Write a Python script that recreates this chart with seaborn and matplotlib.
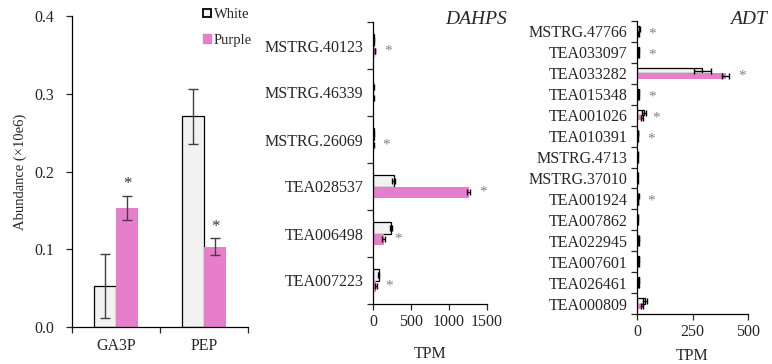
import matplotlib
matplotlib.use("Agg")
import matplotlib.pyplot as plt
import seaborn as sns
import pandas as pd
import numpy as np
from matplotlib.patches import Patch

sns.set_theme(style="white")
plt.rcParams['font.family'] = ['Liberation Serif', 'DejaVu Serif']

WHITE_C = "#f2f2f2"
PURPLE_C = "#e67fcb"
groups = ["White", "Purple"]

# ---------------- Panel 1 data ----------------
met_cats = ["GA3P", "PEP"]
met_white = [0.053, 0.271]
met_white_err = [0.041, 0.035]
met_purple = [0.153, 0.103]
met_purple_err = [0.016, 0.011]
met_sig = [True, True]

# ---------------- Panel 2 data (DAHPS) ----------------
dahps_genes = ["MSTRG.40123", "MSTRG.46339", "MSTRG.26069",
               "TEA028537", "TEA006498", "TEA007223"]
dahps_white = [8, 5, 8, 270, 240, 75]
dahps_white_err = [3, 2, 3, 22, 15, 10]
dahps_purple = [25, 5, 5, 1260, 140, 40]
dahps_purple_err = [5, 2, 2, 20, 20, 8]
dahps_sig = [True, False, True, True, True, True]

# ---------------- Panel 3 data (ADT) ----------------
adt_genes = ["MSTRG.47766", "TEA033097", "TEA033282", "TEA015348",
             "TEA001026", "TEA010391", "MSTRG.4713", "MSTRG.37010",
             "TEA001924", "TEA007862", "TEA022945", "TEA007601",
             "TEA026461", "TEA000809"]
adt_white = [10, 8, 295, 8, 32, 4, 3, 2, 6, 3, 8, 7, 8, 35]
adt_white_err = [2, 2, 38, 2, 8, 1, 1, 1, 2, 1, 2, 2, 2, 8]
adt_purple = [8, 6, 400, 6, 22, 3, 2, 2, 4, 2, 6, 6, 6, 22]
adt_purple_err = [2, 2, 15, 2, 6, 1, 1, 1, 1, 1, 2, 2, 2, 6]
adt_sig = [True, True, True, True, True, True, False, False, True,
           False, False, False, False, False]

W, H = 772, 364
fig = plt.figure(figsize=(W / 100, H / 100), dpi=100)


def axes_px(l, r, t, b):
    return fig.add_axes([l / W, 1 - b / H, (r - l) / W, (b - t) / H])


def long_df(cats, w, p):
    return pd.DataFrame({"cat": list(cats) * 2,
                         "value": list(w) + list(p),
                         "group": ["White"] * len(cats) + ["Purple"] * len(cats)})


FS = 11.5

# ---------- Panel 1 ----------
ax1 = axes_px(72, 248, 16, 327)
df1 = long_df(met_cats, met_white, met_purple)
sns.barplot(data=df1, x="cat", y="value", hue="group", hue_order=groups,
            palette=[WHITE_C, PURPLE_C], width=0.5, errorbar=None,
            linewidth=0, ax=ax1, legend=False, saturation=1)
cont_w, cont_p = ax1.containers[0], ax1.containers[1]
for bar in cont_w:
    bar.set_edgecolor("black"); bar.set_linewidth(0.9)
for cont, errs in ((cont_w, met_white_err), (cont_p, met_purple_err)):
    xs = [b.get_x() + b.get_width() / 2 for b in cont]
    ys = [b.get_height() for b in cont]
    ax1.errorbar(xs, ys, yerr=errs, fmt="none", ecolor="#404040",
                 elinewidth=1.0, capsize=3.5, capthick=1.0)
xs = [b.get_x() + b.get_width() / 2 for b in cont_p]
for x, v, e, s in zip(xs, met_purple, met_purple_err, met_sig):
    if s:
        ax1.text(x, v + e + 0.004, "*", ha="center", va="bottom", fontsize=12, color="#333333")
ax1.set_ylim(0, 0.4)
ax1.set_xlim(-0.5, 1.5)
ax1.set_yticks([0, 0.1, 0.2, 0.3, 0.4])
ax1.set_yticklabels(["0.0", "0.1", "0.2", "0.3", "0.4"])
ax1.set_xticks([0, 1])
ax1.set_xticklabels(met_cats)
ax1.set_xticks([-0.5, 0.5, 1.5], minor=True)
ax1.tick_params(axis="x", which="major", length=0, labelsize=FS, pad=8)
ax1.tick_params(axis="x", which="minor", length=4, width=0.9, direction="out", bottom=True)
ax1.tick_params(axis="y", length=4, width=0.9, direction="out", left=True, labelsize=FS, pad=9)
ax1.set_xlabel("")
ax1.set_ylabel("Abundance (×10e6)", fontsize=10.5, labelpad=5)
sns.despine(ax=ax1)
for sp in ("left", "bottom"):
    ax1.spines[sp].set_color("black"); ax1.spines[sp].set_linewidth(0.9)
handles = [Patch(facecolor=WHITE_C, edgecolor="black", linewidth=1.3),
           Patch(facecolor=PURPLE_C, edgecolor=PURPLE_C)]
ax1.legend(handles, ["White", "Purple"], loc="upper left", bbox_to_anchor=(0.745, 1.025),
           frameon=False, fontsize=10.5, handlelength=0.55, handleheight=0.55,
           handletextpad=0.2, labelspacing=0.85, borderpad=0, borderaxespad=0)


def hpanel(ax, genes, w, we, p, pe, sig, xmax, xticks, star_off, tick_fs, xlabelpad):
    df = long_df(genes, w, p)
    sns.barplot(data=df, y="cat", x="value", hue="group", hue_order=groups,
                orient="h", palette=[WHITE_C, PURPLE_C], width=0.5, errorbar=None,
                linewidth=0, ax=ax, legend=False, saturation=1)
    cw, cp = ax.containers[0], ax.containers[1]
    for bar in cw:
        bar.set_edgecolor("black"); bar.set_linewidth(0.9)
    for cont, errs in ((cw, we), (cp, pe)):
        ys = [b.get_y() + b.get_height() / 2 for b in cont]
        xs = [b.get_width() for b in cont]
        ax.errorbar(xs, ys, xerr=errs, fmt="none", ecolor="black",
                    elinewidth=1.0, capsize=2.5, capthick=1.0)
    ysp = [b.get_y() + b.get_height() / 2 for b in cp]
    for y, v, e, s in zip(ysp, p, pe, sig):
        if s:
            ax.text(v + e + star_off, y, "*", ha="center", va="center",
                    fontsize=11, color="#808080")
    n = len(genes)
    ax.set_xlim(0, xmax)
    ax.set_ylim(n - 0.5, -0.5)
    ax.set_xticks(xticks)
    ax.set_yticks(range(n))
    ax.set_yticklabels(genes)
    ax.set_yticks(np.arange(-0.5, n, 1.0), minor=True)
    ax.tick_params(axis="y", which="major", length=0, labelsize=tick_fs, pad=7)
    ax.tick_params(axis="y", which="minor", length=4, width=0.9, direction="out", left=True)
    ax.tick_params(axis="x", length=4, width=0.9, direction="out", bottom=True, labelsize=FS, pad=3)
    ax.set_ylabel("")
    ax.set_xlabel("TPM", fontsize=FS, labelpad=xlabelpad)
    sns.despine(ax=ax)
    for sp in ("left", "bottom"):
        ax.spines[sp].set_color("black"); ax.spines[sp].set_linewidth(0.9)


ax2 = axes_px(373, 487, 22, 304)
hpanel(ax2, dahps_genes, dahps_white, dahps_white_err, dahps_purple, dahps_purple_err,
       dahps_sig, 1500, [0, 500, 1000, 1500], 165, FS, 12)
fig.text(507 / W, 1 - 24 / H, "DAHPS", ha="right", va="baseline", fontsize=14, style="italic")

ax3 = axes_px(637, 748, 21, 314)
hpanel(ax3, adt_genes, adt_white, adt_white_err, adt_purple, adt_purple_err,
       adt_sig, 500, [0, 250, 500], 58, FS, 6)
fig.text(767 / W, 1 - 24 / H, "ADT", ha="right", va="baseline", fontsize=14, style="italic")

fig.savefig("out.png", dpi=100)
